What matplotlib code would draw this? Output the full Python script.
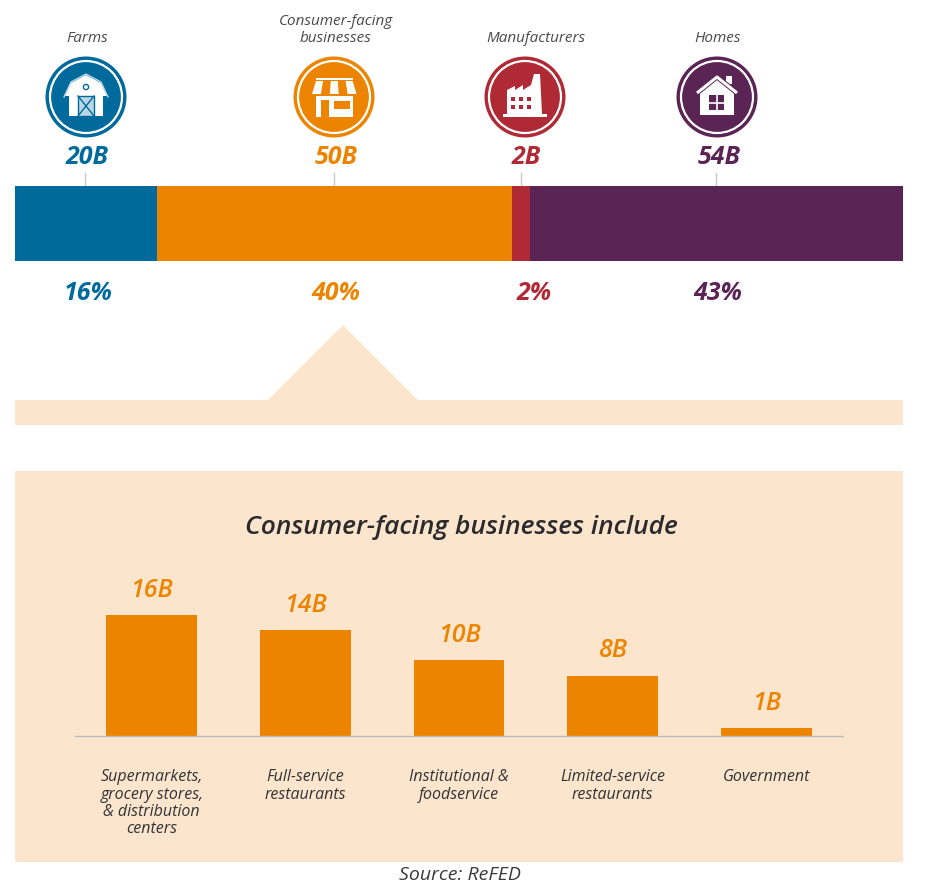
#Food waste by sector - segmented bar on top, consumer-facing detail below
import matplotlib
matplotlib.use('Agg')
import matplotlib.pyplot as plt
from matplotlib.patches import Circle, Polygon, Rectangle

W, H = 928, 891

# Data
sectors = ['Farms', 'Consumer-facing\nbusinesses', 'Manufacturers', 'Homes']
sector_tons = ['20B', '50B', '2B', '54B']
sector_pct = ['16%', '40%', '2%', '43%']
sector_share = [16, 40, 2, 42]
sector_colors = ['#006A9C', '#EC8400', '#B02A35', '#5A2455']

detail_names = ['Supermarkets,\ngrocery stores,\n& distribution\ncenters', 'Full-service\nrestaurants',
                'Institutional &\nfoodservice', 'Limited-service\nrestaurants', 'Government']
detail_values = [16, 14, 10, 8, 1]
detail_labels = ['16B', '14B', '10B', '8B', '1B']

PEACH = '#FBE5CD'
ORANGE = '#EC8400'
DARK = '#2B2B2E'
FONT = 'Open Sans'

fig = plt.figure(figsize=(W/100, H/100), dpi=100, facecolor='white')

# pixel canvas for everything decorative
bg = fig.add_axes([0, 0, 1, 1])
bg.set_xlim(0, W)
bg.set_ylim(H, 0)
bg.axis('off')

def box(l, t, r, b):
    return [l/W, 1-b/H, (r-l)/W, (b-t)/H]

# Peach shapes
bg.add_patch(Rectangle((15, 400), 888, 25, color=PEACH, lw=0))
bg.add_patch(Polygon([(268, 400), (343, 325), (418, 400)], color=PEACH, lw=0))
bg.add_patch(Rectangle((15, 471), 888, 391, color=PEACH, lw=0))

# Top stacked bar
top = fig.add_axes(box(15, 186, 903, 261))
left = 0
for share, col in zip(sector_share, sector_colors):
    top.barh(0, share, left=left, height=1, color=col)
    left += share
top.set_xlim(0, 100)
top.set_ylim(-0.5, 0.5)
top.axis('off')

# Icons
def barn(cx, cy, col):
    bg.add_patch(Polygon([(cx-21, cy-1), (cx-15, cy-14), (cx, cy-22), (cx+15, cy-14), (cx+21, cy-1),
                          (cx+17, cy-1), (cx+17, cy+19), (cx-17, cy+19), (cx-17, cy-1)], color='white', lw=0, zorder=4))
    bg.plot([cx-22, cx-15, cx, cx+15, cx+22], [cy, cy-15, cy-23, cy-15, cy], color='#BBD6E4', lw=1, zorder=4)
    bg.add_patch(Rectangle((cx-8, cy-1), 16, 20, fc='#BBD6E4', ec=col, lw=1, zorder=5))
    bg.plot([cx-8, cx+8], [cy-1, cy+19], color=col, lw=1, zorder=6)
    bg.plot([cx-8, cx+8], [cy+19, cy-1], color=col, lw=1, zorder=6)
    bg.add_patch(Circle((cx, cy-10), 2.6, fc='white', ec=col, lw=1, zorder=5))

def store(cx, cy, col):
    bg.add_patch(Rectangle((cx-18, cy-19.5), 37, 2, color='white', lw=0, zorder=4))
    bg.add_patch(Rectangle((cx-18, cy-2), 37, 22, color='white', lw=0, zorder=4))
    bg.add_patch(Rectangle((cx-13, cy+3), 8, 17, color=col, lw=0, zorder=5))
    bg.add_patch(Rectangle((cx, cy+4), 16, 8, color=col, lw=0, zorder=5))
    for i in range(5):
        if i % 2 == 0:
            tl = cx-18+i*7.4
            bl = cx-22+i*8.9
            bg.add_patch(Polygon([(tl, cy-16), (tl+7, cy-16), (bl+8.9, cy-3), (bl, cy-3)], color='white', lw=0, zorder=4))
    bg.add_patch(Rectangle((cx-22, cy-3), 45, 2, color=col, lw=0, zorder=4.5))

def factory(cx, cy, col):
    bg.add_patch(Polygon([(cx-18, cy+17), (cx-18, cy-7), (cx-10, cy-11), (cx-10, cy-7), (cx-2, cy-12), (cx-2, cy-7),
                          (cx+6, cy-12), (cx+9, cy-23), (cx+15, cy-23), (cx+17, cy+17)], color='white', lw=0, zorder=4))
    bg.add_patch(Rectangle((cx-22, cy+17), 44, 3, color='white', lw=0, zorder=4))
    for dy in [2, 10]:
        for dx in [-12, -4, 4]:
            bg.add_patch(Rectangle((cx+dx-1.7, cy+dy-1.7), 3.4, 3.4, color=col, lw=0, zorder=5))

def house(cx, cy, col):
    bg.add_patch(Rectangle((cx+9, cy-21), 6, 8, color='white', lw=0, zorder=4))
    bg.add_patch(Polygon([(cx-17, cy-7), (cx, cy-18), (cx+17, cy-7), (cx+17, cy+18), (cx-17, cy+18)], color='white', lw=0, zorder=4))
    bg.plot([cx-20, cx, cx+20], [cy-4, cy-20, cy-4], color=col, lw=3.6, zorder=4.5, solid_capstyle='butt')
    bg.plot([cx-20, cx, cx+20], [cy-4, cy-20, cy-4], color='white', lw=2.2, zorder=4.6, solid_capstyle='butt')
    bg.add_patch(Rectangle((cx-7.5, cy-2), 15, 15, color=col, lw=0, zorder=5))
    bg.plot([cx, cx], [cy-2, cy+13], color='white', lw=1.2, zorder=6)
    bg.plot([cx-7.5, cx+7.5], [cy+5.5, cy+5.5], color='white', lw=1.2, zorder=6)

icon_x = [86, 334, 525, 717]
icon_funcs = [barn, store, factory, house]
tick_x = [85, 334, 521, 716]
name_x = [87, 336, 536, 718]
name_y = [39, 30, 39, 39]
ton_x = [87, 336, 526, 719]
pct_x = [88, 336, 534, 718]

for i, col in enumerate(sector_colors):
    bg.add_patch(Circle((icon_x[i], 97), 40.5, fc=col, ec='none', zorder=2))
    bg.add_patch(Circle((icon_x[i], 97), 36, fc='none', ec='white', lw=1.6, zorder=3))
    icon_funcs[i](icon_x[i], 97, col)
    bg.plot([tick_x[i], tick_x[i]], [173, 186], color='#C9C9C9', lw=1)
    bg.text(name_x[i], name_y[i], sectors[i], ha='center', va='center', fontsize=11, style='italic',
            color='#4A4A4D', family=FONT, linespacing=1.1)
    bg.text(ton_x[i], 157, sector_tons[i], ha='center', va='center', fontsize=18, style='italic',
            weight='bold', color=col, family=FONT)
    bg.text(pct_x[i], 293, sector_pct[i], ha='center', va='center', fontsize=18, style='italic',
            weight='bold', color=col, family=FONT)

# Detail panel
bg.text(461, 527, 'Consumer-facing businesses include', ha='center', va='center', fontsize=19,
        style='italic', weight='semibold', color=DARK, family=FONT)

ax = fig.add_axes(box(75, 600, 843, 736))
ax.patch.set_alpha(0)
xs = list(range(len(detail_values)))
bars = ax.bar(xs, detail_values, width=0.59, color=ORANGE)
ax.set_xlim(-0.5, 4.5)
ax.set_ylim(0, 18)
for s in ['top', 'left', 'right']:
    ax.spines[s].set_visible(False)
ax.spines['bottom'].set_color('#BDBDBD')
ax.spines['bottom'].set_linewidth(1)
ax.set_yticks([])
ax.set_xticks(xs)
ax.set_xticklabels(detail_names, fontsize=11.5, style='italic', color='#333336', family=FONT, linespacing=1.1, va='top')
ax.tick_params(axis='x', length=0, pad=24)
for b, lab in zip(bars, detail_labels):
    ax.annotate(lab, (b.get_x()+b.get_width()/2, b.get_height()), xytext=(0, 9), textcoords='offset points',
                ha='center', va='bottom', fontsize=18, style='italic', weight='semibold', color=ORANGE, family=FONT,
                annotation_clip=False)

bg.text(460, 875, 'Source: ReFED', ha='center', va='center', fontsize=14, style='italic', color='#3A3A3D', family=FONT)

fig.savefig('out.png', dpi=100)
